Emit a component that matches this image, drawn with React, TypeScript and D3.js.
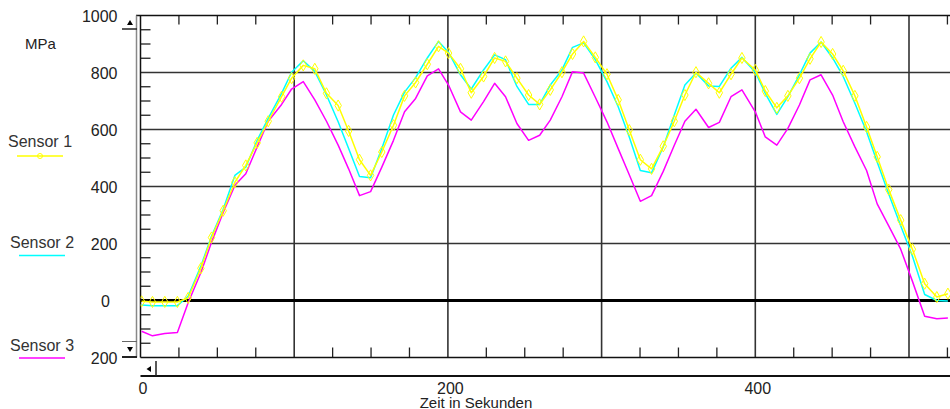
import React from "react";
import * as d3 from "d3";

const times = [
  0.7, 7.8, 15.8, 24, 31, 39.3, 46.2, 53.8, 61.4, 68.5, 75.9, 83.1, 91.8, 98.3, 105.9, 113.4, 121, 128.6,
  135.4, 142.5, 149.7, 157.0, 164.6, 171.8, 179, 186.6, 193.9, 200.4, 208.2, 215.2, 223.2, 230.4, 237.5, 244.9, 252.5, 259.7,
  266.6, 274.2, 281.1, 288.3, 295.9, 303.5, 310.8, 318, 325.2, 332.5, 340.1, 347.3, 354.2, 361.4, 369.6, 376.6, 384.2, 391.3,
  400, 406.5, 414, 421.2, 428.7, 435.6, 442.8, 450.3, 457.2, 464.8, 472.4, 479.3, 486.8, 494.6, 502.2, 510.2, 518.1, 525.3,
];

const sensor1 = [
  -3, -5, -5, -5, 9, 113, 221, 315, 415, 474, 553, 629, 715, 780, 825, 813, 727, 684,
  595, 494, 439, 521, 615, 718, 765, 829, 892, 868, 813, 729, 786, 851, 839, 780, 721, 688,
  739, 801, 865, 909, 853, 794, 704, 598, 494, 462, 541, 629, 721, 801, 762, 729, 794, 851,
  809, 735, 676, 718, 780, 848, 907, 865, 806, 718, 609, 504, 389, 282, 180, 59, 12, 24,
];

const sensor2 = [
  -16, -18, -18, -18, 15, 121, 225, 320, 439, 468, 562, 639, 727, 801, 841, 804, 721, 627,
  533, 435, 431, 533, 651, 731, 782, 851, 909, 871, 792, 742, 809, 862, 845, 751, 688, 688,
  756, 809, 888, 904, 845, 768, 680, 574, 456, 448, 539, 651, 756, 798, 753, 751, 815, 853,
  801, 727, 653, 715, 792, 868, 907, 851, 786, 692, 592, 486, 374, 262, 156, 21, 0, -2,
];

const sensor3 = [
  -108, -124, -116, -112, -8, 98, 204, 309, 404, 445, 539, 629, 688, 742, 768, 704, 629, 545,
  462, 368, 382, 468, 562, 662, 709, 788, 813, 756, 662, 633, 698, 762, 715, 621, 562, 580,
  633, 715, 803, 798, 713, 627, 533, 441, 348, 368, 453, 545, 629, 671, 607, 625, 715, 739,
  662, 574, 545, 604, 686, 774, 792, 721, 627, 539, 456, 339, 262, 180, 68, -55, -64, -61,
];

const seriesNames = ["Sensor 1", "Sensor 2", "Sensor 3"];
const seriesColors = ["#ffff00", "#00ffff", "#ff00ff"];

const yTickValues = [1000, 800, 600, 400, 200, 0, -200];
const yTickLabels = ["1000", "800", "600", "400", "200", "0", "200"];
const yGridValues = [800, 600, 400, 200];
const xGridValues = [100, 200, 300, 400, 500];
const xLabelValues = [0, 200, 400];
const xLabels = ["0", "200", "400"];
const yUnit = "MPa";
const xTitle = "Zeit in Sekunden";

const W = 950;
const H = 409;
const FONT = "'Liberation Sans', Arial, sans-serif";

export default function App() {
  const x = d3.scaleLinear().domain([0, 600]).range([140.5, 140.5 + 600 * 1.537]);
  const y = d3.scaleLinear().domain([-200, 1000]).range([357.5, 15.5]);
  const plotL = 140.5;
  const plotT = 15.5;
  const plotB = 357.5;

  const line = d3
    .line<number>()
    .x((_, i) => x(times[i]))
    .y((d) => y(d));

  const data = [sensor1, sensor2, sensor3];

  const minorY = d3.range(-150, 1000, 50).filter((v) => v % 200 !== 0);
  const minorX = d3.range(25, 600, 25).filter((v) => v % 100 !== 0);

  const diamond = d3.symbol().type(d3.symbolDiamond).size(36)() as string;

  const legendY = [141, 242, 345];
  const legendLineY = [156, 255.5, 358];

  return (
    <svg
      width={W}
      height={H}
      style={{ position: "absolute", left: 0, top: 0, display: "block", background: "#fff" }}
      fontFamily={FONT}
    >
      <defs>
        <clipPath id="plot">
          <rect x={plotL} y={plotT - 2} width={W - plotL} height={plotB - plotT + 4} />
        </clipPath>
      </defs>

      {/* grid */}
      {yGridValues.map((v) => (
        <line key={"gy" + v} x1={plotL} x2={W} y1={y(v)} y2={y(v)} stroke="#333" strokeWidth={1.6} />
      ))}
      {xGridValues.map((v) => (
        <line key={"gx" + v} x1={x(v)} x2={x(v)} y1={plotT} y2={plotB} stroke="#333" strokeWidth={1.6} />
      ))}

      {/* minor ticks */}
      {minorY.map((v) => (
        <line key={"ty" + v} x1={plotL} x2={plotL + 10} y1={y(v)} y2={y(v)} stroke="#222" strokeWidth={1.3} />
      ))}
      {minorX.map((v) => (
        <g key={"tx" + v}>
          <line x1={x(v)} x2={x(v)} y1={plotB} y2={plotB - 10} stroke="#222" strokeWidth={1.3} />
          <line x1={x(v)} x2={x(v)} y1={plotT} y2={plotT + 9} stroke="#222" strokeWidth={1.3} />
        </g>
      ))}

      {/* zero line */}
      <line x1={plotL} x2={W} y1={y(0)} y2={y(0)} stroke="#000" strokeWidth={3.2} />

      {/* frame */}
      <line x1={136} x2={W} y1={plotT} y2={plotT} stroke="#111" strokeWidth={1.5} />
      <line x1={plotL} x2={plotL} y1={plotT} y2={plotB} stroke="#111" strokeWidth={1.5} />
      <line x1={plotL} x2={W} y1={plotB} y2={plotB} stroke="#111" strokeWidth={1.5} />
      <line x1={136.5} x2={136.5} y1={plotT} y2={plotB} stroke="#888" strokeWidth={1.5} />

      {/* vertical scroll buttons */}
      <line x1={122} x2={137} y1={29} y2={29} stroke="#222" strokeWidth={1.5} />
      <path d="M127,25 L133,25 L130,20 Z" fill="#000" />
      <line x1={122} x2={137} y1={341.5} y2={341.5} stroke="#666" strokeWidth={1} />
      <line x1={122} x2={137} y1={357} y2={357} stroke="#222" strokeWidth={2} />
      <path d="M127,347 L133,347 L130,352 Z" fill="#000" />

      {/* horizontal scroll */}
      <line x1={plotL} x2={W} y1={376} y2={376} stroke="#111" strokeWidth={2} />
      <line x1={156} x2={156} y1={361} y2={376} stroke="#222" strokeWidth={1.5} />
      <path d="M151,366 L151,372 L146.5,369 Z" fill="#000" />

      {/* series */}
      <g clipPath="url(#plot)">
        {[2, 1, 0].map((si) => (
          <path
            key={"s" + si}
            d={line(data[si]) as string}
            fill="none"
            stroke={seriesColors[si]}
            strokeWidth={1.5}
            strokeLinejoin="round"
          />
        ))}
        {sensor1.map((v, i) => (
          <path
            key={"m" + i}
            d={diamond}
            transform={`translate(${x(times[i])},${y(v)})`}
            fill="none"
            stroke={seriesColors[0]}
            strokeWidth={1}
          />
        ))}
      </g>

      {/* y labels */}
      {yTickValues.map((v, i) => (
        <text
          key={"yl" + v}
          x={v === 0 ? 110 : 117.5}
          y={y(v) + 1}
          textAnchor="end"
          dominantBaseline="central"
          fontSize={16}
          fill="#222"
        >
          {yTickLabels[i]}
        </text>
      ))}
      <text x={25} y={43} dominantBaseline="central" fontSize={15} fill="#222">
        {yUnit}
      </text>

      {/* x labels */}
      {xLabelValues.map((v, i) => (
        <text
          key={"xl" + v}
          x={x(v) + 2.5}
          y={388}
          textAnchor="middle"
          dominantBaseline="central"
          fontSize={16}
          fill="#222"
        >
          {xLabels[i]}
        </text>
      ))}
      <text x={476} y={402} textAnchor="middle" dominantBaseline="central" fontSize={15} fill="#222">
        {xTitle}
      </text>

      {/* legend */}
      {seriesNames.map((n, i) => (
        <g key={"lg" + i}>
          <text x={i === 0 ? 8 : 10} y={legendY[i]} dominantBaseline="central" fontSize={16} fill="#333">
            {n}
          </text>
          <line x1={17 + (i ? 2 : 0)} x2={63 + (i ? 2 : 0)} y1={legendLineY[i]} y2={legendLineY[i]} stroke={seriesColors[i]} strokeWidth={1.5} />
          {i === 0 && <circle cx={40} cy={legendLineY[i]} r={2.5} fill="none" stroke={seriesColors[0]} strokeWidth={1} />}
        </g>
      ))}
    </svg>
  );
}
